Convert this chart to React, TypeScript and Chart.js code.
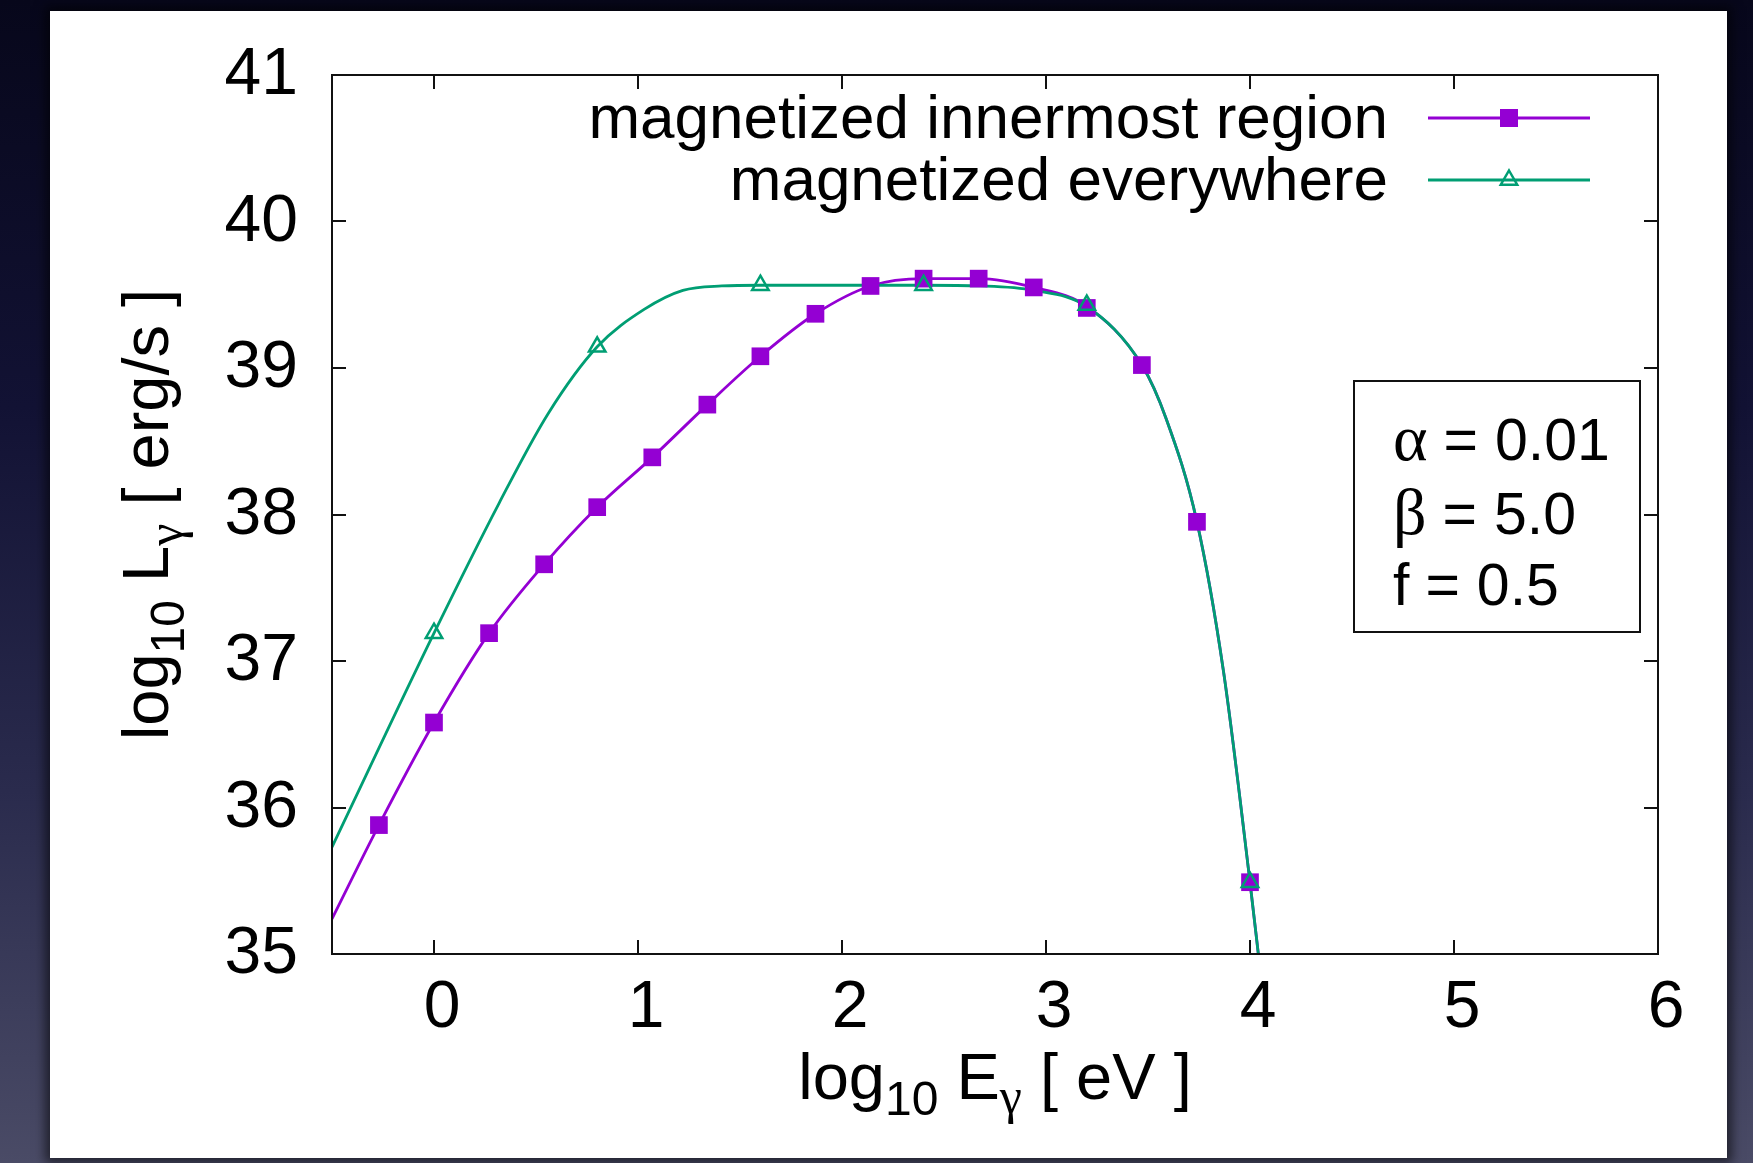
import React, { useEffect, useRef } from "react";
import { Chart, registerables } from "chart.js";

Chart.register(...registerables);

// log10 of photon energy [eV] and log10 of luminosity [erg/s]
// "magnetized innermost region": plotted symbols
const innerMarkerE = [-0.27, 0.0, 0.27, 0.54, 0.8, 1.07, 1.34, 1.6, 1.87, 2.14, 2.4, 2.67, 2.94, 3.2, 3.47, 3.74, 4.0];
const innerMarkerL = [35.88, 36.58, 37.19, 37.66, 38.05, 38.39, 38.75, 39.08, 39.37, 39.56, 39.61, 39.61, 39.55, 39.41, 39.02, 37.95, 35.49];
// "magnetized innermost region": spectrum curve
const innerCurveE = [-0.5, -0.27, 0.0, 0.27, 0.54, 0.8, 1.07, 1.34, 1.6, 1.87, 2.14, 2.4, 2.67, 2.94, 3.2, 3.47, 3.59, 3.74, 3.87, 4.0, 4.045];
const innerCurveL = [35.24, 35.88, 36.58, 37.19, 37.66, 38.05, 38.39, 38.75, 39.08, 39.37, 39.56, 39.61, 39.61, 39.55, 39.42, 39.02, 38.65, 37.95, 36.93, 35.49, 34.95];

// "magnetized everywhere": plotted symbols
const allMarkerE = [0.0, 0.8, 1.6, 2.4, 3.2, 4.0];
const allMarkerL = [37.19, 39.145, 39.565, 39.565, 39.43, 35.49];
// "magnetized everywhere": spectrum curve
const allCurveE = [-0.5, 0.0, 0.32, 0.56, 0.8, 1.03, 1.22, 1.41, 1.6, 2.4, 2.68, 2.94, 3.2, 3.47, 3.59, 3.74, 3.87, 4.0, 4.045];
const allCurveL = [35.73, 37.19, 38.08, 38.69, 39.145, 39.4, 39.53, 39.56, 39.565, 39.565, 39.56, 39.53, 39.42, 39.02, 38.65, 37.95, 36.93, 35.49, 34.95];

const xTickValues = [0, 1, 2, 3, 4, 5, 6];
const yTickValues = [35, 36, 37, 38, 39, 40, 41];
const seriesLabels = ["magnetized innermost region", "magnetized everywhere"];
const paramSymbols = ["α", "β", "f"];
const paramValues = ["0.01", "5.0", "0.5"];

const PURPLE = "#9400d3";
const GREEN = "#009e73";
const SANS = "'Liberation Sans', Arial, sans-serif";
const SERIF = "'Liberation Serif', 'Times New Roman', serif";

const W = 1753;
const H = 1163;

function toPoints(xs: number[], ys: number[]) {
  return xs.map((x, i) => ({ x, y: ys[i] }));
}

type Part = { t: string; font: string; dy?: number; gap?: number };

function richWidth(ctx: CanvasRenderingContext2D, parts: Part[]) {
  let w = 0;
  for (const p of parts) {
    ctx.font = p.font;
    w += (p.gap || 0) + ctx.measureText(p.t).width;
  }
  return w;
}

function drawRich(ctx: CanvasRenderingContext2D, parts: Part[], x: number, y: number) {
  let cx = x;
  for (const p of parts) {
    ctx.font = p.font;
    cx += p.gap || 0;
    ctx.fillText(p.t, cx, y + (p.dy || 0));
    cx += ctx.measureText(p.t).width;
  }
}

function drawSquare(ctx: CanvasRenderingContext2D, x: number, y: number, side: number) {
  ctx.fillStyle = PURPLE;
  ctx.fillRect(x - side / 2, y - side / 2, side, side);
}

function drawTriangle(ctx: CanvasRenderingContext2D, x: number, y: number, r: number) {
  ctx.strokeStyle = GREEN;
  ctx.lineWidth = 2.5;
  ctx.beginPath();
  ctx.moveTo(x, y - r);
  ctx.lineTo(x + r * 0.866, y + r / 2);
  ctx.lineTo(x - r * 0.866, y + r / 2);
  ctx.closePath();
  ctx.stroke();
}

const framePlugin = {
  id: "gnuplotFrame",
  afterDatasetsDraw(chart: any) {
    const ctx: CanvasRenderingContext2D = chart.ctx;
    const { left, right, top, bottom } = chart.chartArea;
    const xs = chart.scales.x;
    const ys = chart.scales.y;
    ctx.save();

    // border and inward ticks on all four sides
    ctx.strokeStyle = "#111";
    ctx.lineWidth = 2;
    ctx.strokeRect(left, top, right - left, bottom - top);
    const tl = 14;
    ctx.beginPath();
    for (const v of xTickValues) {
      const px = Math.round(xs.getPixelForValue(v));
      ctx.moveTo(px, bottom);
      ctx.lineTo(px, bottom - tl);
      ctx.moveTo(px, top);
      ctx.lineTo(px, top + tl);
    }
    for (const v of yTickValues) {
      const py = Math.round(ys.getPixelForValue(v));
      ctx.moveTo(left, py);
      ctx.lineTo(left + tl, py);
      ctx.moveTo(right, py);
      ctx.lineTo(right - tl, py);
    }
    ctx.stroke();

    // tick labels
    ctx.fillStyle = "#000";
    ctx.font = `66px ${SANS}`;
    ctx.textBaseline = "alphabetic";
    ctx.textAlign = "center";
    for (const v of xTickValues) {
      ctx.fillText(String(v), xs.getPixelForValue(v) + 8, bottom + 73);
    }
    ctx.textAlign = "right";
    for (const v of yTickValues) {
      ctx.fillText(String(v), left - 34, ys.getPixelForValue(v) + 19);
    }

    // axis titles
    ctx.textAlign = "left";
    const main = `65px ${SANS}`;
    const sub = `48px ${SANS}`;
    const subG = `50px ${SERIF}`;
    const xTitle: Part[] = [
      { t: "log", font: main },
      { t: "10", font: sub, dy: 16 },
      { t: " E", font: main },
      { t: "γ", font: subG, dy: 14 },
      { t: " [ eV ]", font: main },
    ];
    const cx = (left + right) / 2;
    drawRich(ctx, xTitle, cx - richWidth(ctx, xTitle) / 2, 1099);

    const yTitle: Part[] = [
      { t: "log", font: main },
      { t: "10", font: sub, dy: 16 },
      { t: " L", font: main },
      { t: "γ", font: subG, dy: 14 },
      { t: " [ erg/s ]", font: main },
    ];
    const cy = (top + bottom) / 2;
    ctx.save();
    ctx.translate(168, cy);
    ctx.rotate(-Math.PI / 2);
    drawRich(ctx, yTitle, -richWidth(ctx, yTitle) / 2, 0);
    ctx.restore();

    // key
    ctx.font = `62px ${SANS}`;
    ctx.textAlign = "right";
    const keyRows = [118, 180];
    seriesLabels.forEach((label, i) => {
      const y = keyRows[i];
      ctx.fillStyle = "#000";
      ctx.fillText(label, 1388, y + 20);
      ctx.strokeStyle = i === 0 ? PURPLE : GREEN;
      ctx.lineWidth = 3;
      ctx.beginPath();
      ctx.moveTo(1428, y);
      ctx.lineTo(1590, y);
      ctx.stroke();
      if (i === 0) drawSquare(ctx, 1509, y, 18);
      else drawTriangle(ctx, 1509, y, 9.5);
    });

    // parameter box
    ctx.strokeStyle = "#111";
    ctx.lineWidth = 2;
    ctx.strokeRect(1354, 381, 286, 251);
    ctx.fillStyle = "#000";
    ctx.textAlign = "left";
    const rowBase = [460, 534, 605];
    const valFont = `59px ${SANS}`;
    paramSymbols.forEach((s, i) => {
      const symFont = s === "f" ? `59px ${SANS}` : `66px ${SERIF}`;
      drawRich(
        ctx,
        [
          { t: s, font: symFont },
          { t: "=", font: valFont, gap: 16 },
          { t: paramValues[i], font: valFont, gap: 17 },
        ],
        1393,
        rowBase[i]
      );
    });

    ctx.restore();
  },
};

export default function App() {
  const canvasRef = useRef<HTMLCanvasElement | null>(null);

  useEffect(() => {
    const canvas = canvasRef.current;
    if (!canvas) return;
    const chart = new Chart(canvas, {
      type: "scatter",
      data: {
        datasets: [
          {
            label: seriesLabels[1] + " symbols",
            data: toPoints(allMarkerE, allMarkerL),
            showLine: false,
            pointStyle: "triangle",
            pointRadius: 9.5,
            pointBorderWidth: 2.5,
            pointBorderColor: GREEN,
            pointBackgroundColor: "rgba(0,0,0,0)",
            order: 0,
          },
          {
            label: seriesLabels[0] + " symbols",
            data: toPoints(innerMarkerE, innerMarkerL),
            showLine: false,
            pointStyle: "rect",
            pointRadius: 12.5,
            pointBorderWidth: 0,
            pointBackgroundColor: PURPLE,
            pointBorderColor: PURPLE,
            order: 1,
          },
          {
            label: seriesLabels[1],
            data: toPoints(allCurveE, allCurveL),
            showLine: true,
            cubicInterpolationMode: "monotone",
            borderColor: GREEN,
            borderWidth: 2.8,
            pointRadius: 0,
            order: 2,
          },
          {
            label: seriesLabels[0],
            data: toPoints(innerCurveE, innerCurveL),
            showLine: true,
            cubicInterpolationMode: "monotone",
            borderColor: PURPLE,
            borderWidth: 2.8,
            pointRadius: 0,
            order: 3,
          },
        ],
      },
      options: {
        responsive: false,
        animation: false,
        devicePixelRatio: 1,
        layout: { padding: { left: 332, top: 75, right: W - 1658, bottom: H - 954 } },
        scales: {
          x: { type: "linear", min: -0.5, max: 6, display: false },
          y: { type: "linear", min: 35, max: 41, display: false },
        },
        plugins: {
          legend: { display: false },
          tooltip: { enabled: false },
        },
      },
      plugins: [framePlugin],
    } as any);
    return () => chart.destroy();
  }, []);

  return (
    <div
      style={{
        position: "fixed",
        left: 0,
        top: 0,
        width: W,
        height: H,
        overflow: "hidden",
        background: "linear-gradient(to bottom, #07071b 0%, #121234 35%, #2a2b4d 68%, #4a4b66 100%)",
      }}
    >
      <div
        style={{
          position: "absolute",
          left: 50,
          top: 11,
          width: 1677,
          height: 1147,
          background: "#ffffff",
          boxShadow: "0 0 10px 5px rgba(0,0,0,0.55)",
        }}
      />
      <canvas
        ref={canvasRef}
        width={W}
        height={H}
        style={{ position: "absolute", left: 0, top: 0, width: W, height: H }}
      />
    </div>
  );
}
